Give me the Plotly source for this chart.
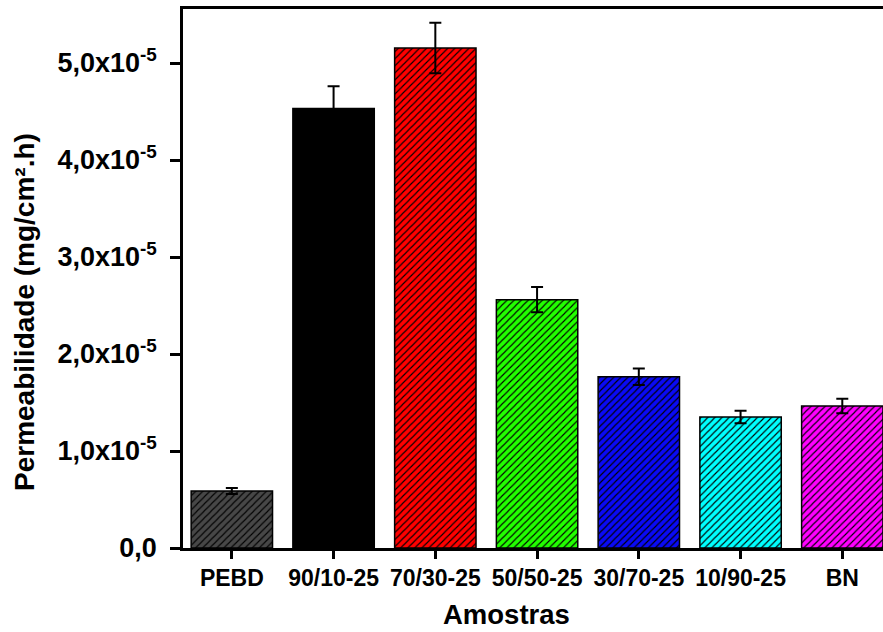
import plotly.graph_objects as go

categories = ["PEBD", "90/10-25", "70/30-25", "50/50-25", "30/70-25", "10/90-25", "BN"]
permeability = [0.588e-5, 4.53e-5, 5.155e-5, 2.56e-5, 1.765e-5, 1.35e-5, 1.465e-5]
errors = [0.03e-5, 0.23e-5, 0.26e-5, 0.13e-5, 0.085e-5, 0.065e-5, 0.075e-5]
bar_colors = ["#474747", "#000000", "#FF0000", "#22FF00", "#0A0AF5", "#00FFFF", "#FF00FF"]
ytick_vals = [0, 1e-5, 2e-5, 3e-5, 4e-5, 5e-5]
ytick_text = ["0,0", "1,0x10<sup>-5</sup>", "2,0x10<sup>-5</sup>", "3,0x10<sup>-5</sup>",
              "4,0x10<sup>-5</sup>", "5,0x10<sup>-5</sup>"]

FONT = "Liberation Sans"

fig = go.Figure()
for i, (cat, val, err, col) in enumerate(zip(categories, permeability, errors, bar_colors)):
    fig.add_trace(go.Bar(
        x=[i],
        y=[val],
        name=cat,
        width=0.8,
        marker=dict(
            color=col,
            line=dict(color="black", width=1.5),
            pattern=dict(shape="/", fgcolor="black", bgcolor=col, fgopacity=1,
                         fillmode="replace", size=5, solidity=0.22),
        ),
        error_y=dict(type="data", array=[err], visible=True, color="black",
                     thickness=2, width=6),
    ))

fig.update_layout(
    width=883, height=632,
    margin=dict(l=183, r=0, t=9, b=84),
    plot_bgcolor="white", paper_bgcolor="white",
    showlegend=False,
    barmode="overlay",
    font=dict(family=FONT, color="black"),
    xaxis=dict(
        range=[-0.48, 6.40],
        tickvals=list(range(len(categories))),
        ticktext=categories,
        tickfont=dict(family=FONT, size=23, weight="bold"),
        showline=True, linecolor="black", linewidth=2.5, mirror=True,
        ticks="outside", ticklen=8, tickwidth=2.5, tickcolor="black",
        showgrid=False, zeroline=False,
    ),
    yaxis=dict(
        range=[0, 5.557e-5],
        tickvals=ytick_vals,
        ticktext=ytick_text,
        tickfont=dict(family=FONT, size=27, weight="bold"),
        showline=True, linecolor="black", linewidth=2.5,
        ticks="outside", ticklen=10, tickwidth=2.5, tickcolor="black",
        ticklabelstandoff=8,
        showgrid=False, zeroline=False,
    ),
    annotations=[
        dict(text="Amostras", x=506, y=614, xref="paper", yref="paper",
             showarrow=False, font=dict(family=FONT, size=27.5, weight="bold")),
        dict(text="Permeabilidade (mg/cm².h)", x=25, y=312, textangle=-90,
             showarrow=False, font=dict(family=FONT, size=28, weight="bold")),
    ],
)

# convert pixel positions for annotations to paper coordinates
pw = 883 - 183
ph = 632 - 9 - 84
anns = []
for a in fig.layout.annotations:
    px, py = a.x, a.y
    a.update(xref="paper", yref="paper",
             x=(px - 183) / pw, y=(632 - 84 - py) / ph,
             xanchor="center", yanchor="middle")
    anns.append(a)
fig.layout.annotations = anns

fig.write_html("out.html")
